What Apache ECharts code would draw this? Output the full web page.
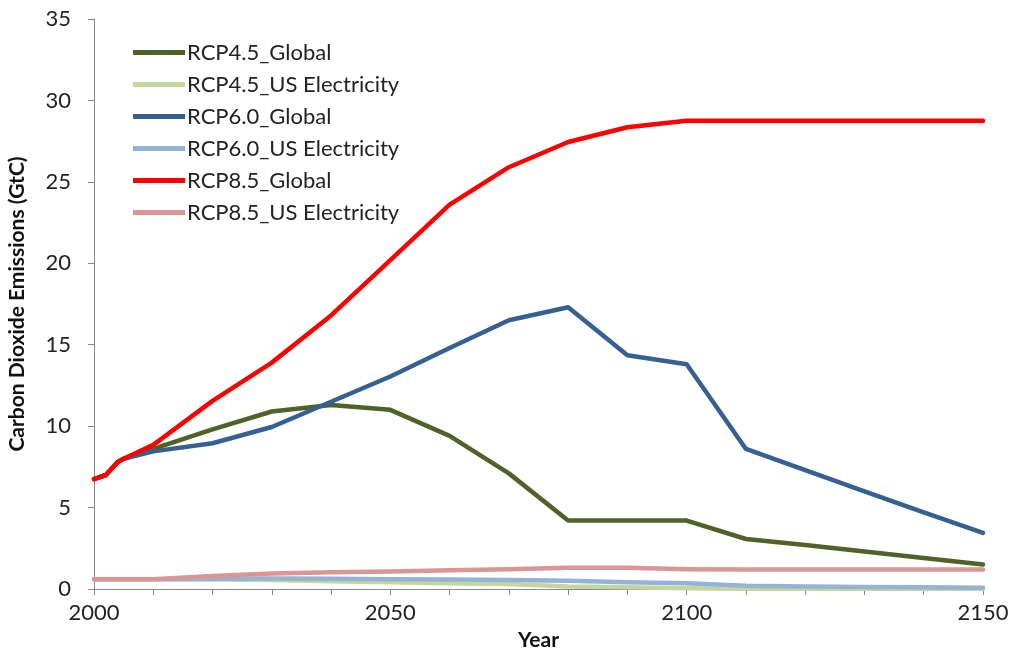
<!DOCTYPE html>
<html>
<head>
<meta charset="utf-8">
<script src="https://cdn.jsdelivr.net/npm/echarts@6/dist/echarts.min.js"></script>
<style>
  html, body { margin: 0; padding: 0; background: #fff; }
</style>
</head>
<body>
<div id="main" style="width: 1011px;height:650px;"></div>
<script>
// 年份（x 轴）
const years = [2000, 2002, 2003, 2004, 2005, 2010, 2020, 2030, 2040, 2050, 2060, 2070, 2080, 2090, 2100, 2110, 2120, 2130, 2140, 2150];

// 各情景排放量 (GtC)
const rcp45Global = [6.75, 7.0, 7.4, 7.8, 8.0, 8.6, 9.8, 10.9, 11.3, 11.0, 9.4, 7.1, 4.2, 4.2, 4.2, 3.07, 2.7, 2.3, 1.9, 1.5];
const rcp45US = [0.6, 0.6, 0.6, 0.6, 0.6, 0.6, 0.58, 0.55, 0.48, 0.42, 0.36, 0.3, 0.15, 0.1, 0.05, 0.02, 0.01, 0.01, 0.0, 0.0];
const rcp60Global = [6.75, 7.0, 7.4, 7.8, 8.0, 8.45, 8.95, 9.95, 11.5, 13.05, 14.8, 16.5, 17.3, 14.35, 13.8, 8.6, 7.3, 6.0, 4.7, 3.45];
const rcp60US = [0.6, 0.6, 0.6, 0.6, 0.6, 0.6, 0.63, 0.65, 0.63, 0.6, 0.58, 0.56, 0.5, 0.42, 0.35, 0.2, 0.16, 0.13, 0.1, 0.08];
const rcp85Global = [6.75, 7.0, 7.4, 7.8, 8.0, 8.85, 11.55, 13.9, 16.8, 20.2, 23.6, 25.9, 27.45, 28.35, 28.75, 28.75, 28.75, 28.75, 28.75, 28.75];
const rcp85US = [0.6, 0.6, 0.6, 0.6, 0.6, 0.6, 0.8, 0.95, 1.03, 1.08, 1.15, 1.22, 1.3, 1.3, 1.22, 1.2, 1.2, 1.2, 1.2, 1.2];

const seriesNames = ["RCP4.5_Global", "RCP4.5_US Electricity", "RCP6.0_Global", "RCP6.0_US Electricity", "RCP8.5_Global", "RCP8.5_US Electricity"];
const seriesColors = ["#4f6228", "#c3d69b", "#376092", "#95b3d7", "#ff0000", "#d99694"];
const seriesValues = [rcp45Global, rcp45US, rcp60Global, rcp60US, rcp85Global, rcp85US];

const font = "Lato, 'Liberation Sans', sans-serif";

var myChart = echarts.init(document.getElementById("main"));
const options = {
  backgroundColor: "#fff",
  animation: false,
  grid: {
    left: 94,
    right: 28,
    top: 19,
    bottom: 61,
    outerBoundsMode: "none",
    containLabel: false,
  },
  legend: {
    orient: "vertical",
    left: 128,
    top: 36,
    icon: "rect",
    itemWidth: 52,
    itemHeight: 5,
    itemGap: 9,
    textStyle: { fontSize: 22, lineHeight: 23, color: "#222", fontFamily: font, padding: [0, 0, 0, -3] },
    data: seriesNames,
  },
  xAxis: {
    type: "value",
    min: 2000,
    max: 2150,
    interval: 10,
    name: "Year",
    nameLocation: "middle",
    nameGap: 41,
    nameTextStyle: { fontSize: 21, fontWeight: "bold", color: "#111", fontFamily: font },
    axisLine: { lineStyle: { color: "#888", width: 1 } },
    axisTick: { show: true, length: 6, lineStyle: { color: "#888" } },
    splitLine: { show: false },
    axisLabel: {
      fontSize: 22,
      color: "#222",
      fontFamily: font,
      margin: 13,
      formatter: function (v) {
        return v % 50 === 0 ? String(v) : "";
      },
    },
  },
  yAxis: {
    type: "value",
    min: 0,
    max: 35,
    interval: 5,
    name: "Carbon Dioxide Emissions (GtC)",
    nameLocation: "middle",
    nameGap: 66,
    nameTextStyle: { fontSize: 21, fontWeight: "bold", color: "#111", fontFamily: font },
    axisLine: { show: true, lineStyle: { color: "#888", width: 1 } },
    axisTick: { show: true, length: 6, lineStyle: { color: "#888" } },
    splitLine: { show: false },
    axisLabel: { fontSize: 22, color: "#222", fontFamily: font, margin: 23 },
  },
  series: seriesNames.map(function (name, i) {
    return {
      name: name,
      type: "line",
      showSymbol: false,
      symbol: "none",
      smooth: false,
      color: seriesColors[i],
      lineStyle: { width: 4.5, color: seriesColors[i], cap: "round", join: "round" },
      data: years.map(function (y, j) {
        return [y, seriesValues[i][j]];
      }),
    };
  }),
};
myChart.setOption(options);
</script>
</body>
</html>
